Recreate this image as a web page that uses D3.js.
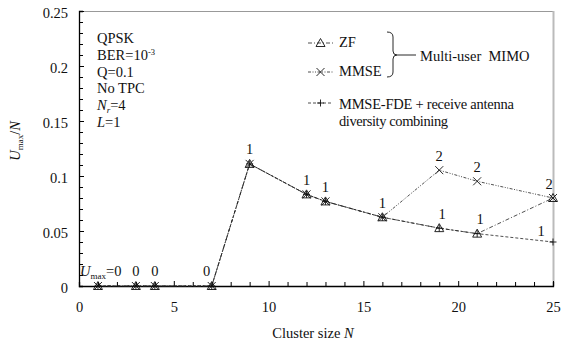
<!DOCTYPE html>
<html>
<head>
<meta charset="utf-8">
<script src="https://cdn.jsdelivr.net/npm/d3@7"></script>
<style>
  body { margin: 0; background: #fff; }
  svg { display: block; }
  svg text { font-family: "Liberation Serif", "DejaVu Serif", serif; }
</style>
</head>
<body>
<svg id="chart" width="563" height="345"></svg>
<script>
// ── 데이터 ────────────────────────────────────────────
const clusterN = [1, 3, 4, 7, 9, 12, 13, 16, 19, 21, 25];
const zfVals   = [0, 0, 0, 0, 0.111, 0.0833, 0.0769, 0.0625, 0.0526, 0.0476, 0.08];
const mmseVals = [0, 0, 0, 0, 0.111, 0.0833, 0.0769, 0.0625, 0.1053, 0.0952, 0.08];
const fdeVals  = [0, 0, 0, 0, 0.111, 0.0833, 0.0769, 0.0625, 0.0526, 0.0476, 0.04];

const xTicks = [0, 5, 10, 15, 20, 25];
const yTicks = [0, 0.05, 0.1, 0.15, 0.2, 0.25];

// U_max 레이블 (series, N, text)
const uLabels = [
  ['fde', 9, '1'], ['fde', 12, '1'], ['fde', 13, '1'], ['fde', 16, '1'],
  ['mmse', 19, '2'], ['mmse', 21, '2'], ['mmse', 25, '2'],
  ['zf', 19, '1'], ['zf', 21, '1'], ['fde', 25, '1'],
  ['fde', 3, '0'], ['fde', 4, '0'], ['fde', 7, '0'],
];

const infoLines = ['QPSK', 'BER', 'Q=0.1', 'No TPC', 'Nr', 'L'];

const FONT = '"Liberation Serif", "DejaVu Serif", serif';
const FS = 14.5;

// ── 레이아웃 ──────────────────────────────────────────
const svg = d3.select('#chart').attr('font-family', FONT);
const m = { l: 79, r: 553, t: 11, b: 286 };
const x = d3.scaleLinear().domain([0, 25]).range([m.l, m.r]);
const y = d3.scaleLinear().domain([0, 0.25]).range([m.b, m.t]);

const series = {
  zf:   { vals: zfVals,   dash: '4,2,1,2',           sym: 'tri' },
  mmse: { vals: mmseVals, dash: '3,1.5,1,1.5,1,1.5', sym: 'x' },
  fde:  { vals: fdeVals,  dash: '3,2',               sym: 'plus' },
};

// 프레임 (위/오른쪽 회색)
svg.append('line').attr('x1', m.l).attr('x2', m.r).attr('y1', m.t + 0.5).attr('y2', m.t + 0.5)
  .attr('stroke', '#999').attr('stroke-width', 1);
svg.append('line').attr('x1', m.r + 0.5).attr('x2', m.r + 0.5).attr('y1', m.t).attr('y2', m.b)
  .attr('stroke', '#bbb').attr('stroke-width', 2);

// ── 축 ────────────────────────────────────────────────
svg.append('g').attr('transform', `translate(0,${m.b})`)
  .call(d3.axisBottom(x).tickValues(d3.range(0, 26, 1)).tickSize(-4).tickFormat(''))
  .selectAll('.tick line').attr('y2', d => d % 5 === 0 ? -5 : -4);
svg.append('g').attr('transform', `translate(0,${m.b})`)
  .call(d3.axisBottom(x).tickValues(xTicks).tickSize(0).tickPadding(16))
  .call(g => g.select('.domain').remove())
  .call(g => g.attr('font-family', FONT).attr('font-size', FS))
  .selectAll('text').attr('fill', '#111');

svg.append('g').attr('transform', `translate(${m.l},0)`)
  .call(d3.axisLeft(y).tickValues(d3.range(0, 0.2501, 0.01)).tickSize(-4).tickFormat(''));
svg.append('g').attr('transform', `translate(${m.l},0)`)
  .call(d3.axisLeft(y).tickValues(yTicks).tickSize(-5).tickPadding(11).tickFormat(d => String(+d.toFixed(2))))
  .call(g => g.select('.domain').remove())
  .call(g => g.attr('font-family', FONT).attr('font-size', FS))
  .selectAll('text').attr('fill', '#111').attr('dy', '0.45em');
svg.selectAll('.domain').attr('stroke', '#000').attr('stroke-width', 1.3);
svg.selectAll('.tick line').attr('stroke', '#000');

// ── 라인 ──────────────────────────────────────────────
const line = d3.line().x(d => x(d[0])).y(d => y(d[1]));
const plot = svg.append('g');
Object.values(series).forEach(s => {
  const pts = clusterN.map((n, i) => [n, s.vals[i]]);
  plot.append('path').datum(pts).attr('d', line)
    .attr('fill', 'none').attr('stroke', '#222').attr('stroke-width', 0.8)
    .attr('stroke-dasharray', s.dash);
});

// ── 마커 ──────────────────────────────────────────────
function drawSym(g, type, cx, cy) {
  if (type === 'tri') {
    g.append('path').attr('d', `M${cx - 4.5},${cy + 3.5}L${cx},${cy - 4.5}L${cx + 4.5},${cy + 3.5}Z`)
      .attr('fill', 'none').attr('stroke', '#111').attr('stroke-width', 0.9);
  } else if (type === 'x') {
    g.append('path').attr('d', `M${cx - 4},${cy - 4}L${cx + 4},${cy + 4}M${cx - 4},${cy + 4}L${cx + 4},${cy - 4}`)
      .attr('stroke', '#111').attr('stroke-width', 0.9);
  } else {
    g.append('path').attr('d', `M${cx - 3.5},${cy}L${cx + 3.5},${cy}M${cx},${cy - 3.5}L${cx},${cy + 3.5}`)
      .attr('stroke', '#111').attr('stroke-width', 0.9);
  }
}
Object.values(series).forEach(s => {
  clusterN.forEach((n, i) => drawSym(plot, s.sym, x(n), y(s.vals[i])));
});

// ── U_max 레이블 ──────────────────────────────────────
const lblG = svg.append('g').attr('font-size', FS).attr('fill', '#111').attr('text-anchor', 'middle');
uLabels.forEach(([key, n, t]) => {
  const v = series[key].vals[clusterN.indexOf(n)];
  let dx = 0, dy = -9.5;
  if (key === 'zf') dx = 3;
  if (key === 'fde' && n === 25) { dx = -12; dy = -6; }
  if (key === 'mmse' && n === 25) { dx = -4; }
  if (n === 7) dx = -5;
  if (v === 0) dy = -10;
  lblG.append('text').attr('x', x(n) + dx).attr('y', y(v) + dy).text(t);
});
const u0 = svg.append('text').attr('x', 80).attr('y', 276).attr('font-size', FS).attr('fill', '#111');
u0.append('tspan').attr('font-style', 'italic').text('U');
u0.append('tspan').attr('font-size', 9).attr('dy', 3).text('max');
u0.append('tspan').attr('dy', -3).text('=0');

// ── 조건 텍스트 ───────────────────────────────────────
const info = svg.append('g').attr('font-size', FS).attr('fill', '#111');
infoLines.forEach((s, i) => {
  const t = info.append('text').attr('x', 97).attr('y', 43 + i * 16.8);
  if (s === 'BER') {
    t.append('tspan').text('BER=10');
    t.append('tspan').attr('font-size', 8.5).attr('dy', -5).text('-3');
  } else if (s === 'Nr') {
    t.append('tspan').attr('font-style', 'italic').text('N');
    t.append('tspan').attr('font-style', 'italic').attr('font-size', 9).attr('dy', 3).text('r');
    t.append('tspan').attr('dy', -3).text('=4');
  } else if (s === 'L') {
    t.append('tspan').attr('font-style', 'italic').text('L');
    t.append('tspan').text('=1');
  } else {
    t.text(s);
  }
});

// ── 범례 ──────────────────────────────────────────────
const leg = svg.append('g').attr('font-size', FS).attr('fill', '#111');
[['zf', 'ZF', 43, 47], ['mmse', 'MMSE', 72, 76], ['fde', 'MMSE-FDE + receive antenna', 103, 109]].forEach(([k, label, ly, by]) => {
  leg.append('line').attr('x1', 308).attr('x2', 333).attr('y1', ly).attr('y2', ly)
    .attr('stroke', '#222').attr('stroke-width', 0.8).attr('stroke-dasharray', series[k].dash);
  drawSym(leg, series[k].sym, 320.5, ly);
  const t = leg.append('text').attr('x', 339).attr('y', by).text(label);
  if (k === 'fde') t.attr('textLength', 175);
});
leg.append('text').attr('x', 339).attr('y', 126).attr('textLength', 109).text('diversity combining');
leg.append('path').attr('d', 'M387,32 Q393,32 393,37 L393,51 Q393,55 397,55 Q393,55 393,59 L393,72 Q393,77 387,77')
  .attr('fill', 'none').attr('stroke', '#111').attr('stroke-width', 0.9);
leg.append('line').attr('x1', 397).attr('x2', 416).attr('y1', 55).attr('y2', 55).attr('stroke', '#111').attr('stroke-width', 0.9);
leg.append('text').attr('x', 420).attr('y', 61).attr('xml:space', 'preserve').text('Multi-user  MIMO');

// ── 축 제목 ───────────────────────────────────────────
const xl = svg.append('text').attr('x', 313).attr('y', 338).attr('text-anchor', 'middle')
  .attr('font-size', FS).attr('fill', '#111');
xl.append('tspan').text('Cluster size ');
xl.append('tspan').attr('font-style', 'italic').text('N');

const yl = svg.append('text').attr('transform', 'translate(20,141) rotate(-90)')
  .attr('text-anchor', 'middle').attr('font-size', FS).attr('fill', '#111');
yl.append('tspan').attr('font-style', 'italic').text('U');
yl.append('tspan').attr('font-size', 9).attr('dy', 3).text('max');
yl.append('tspan').attr('dy', -3).text('/');
yl.append('tspan').attr('font-style', 'italic').text('N');
</script>
</body>
</html>
